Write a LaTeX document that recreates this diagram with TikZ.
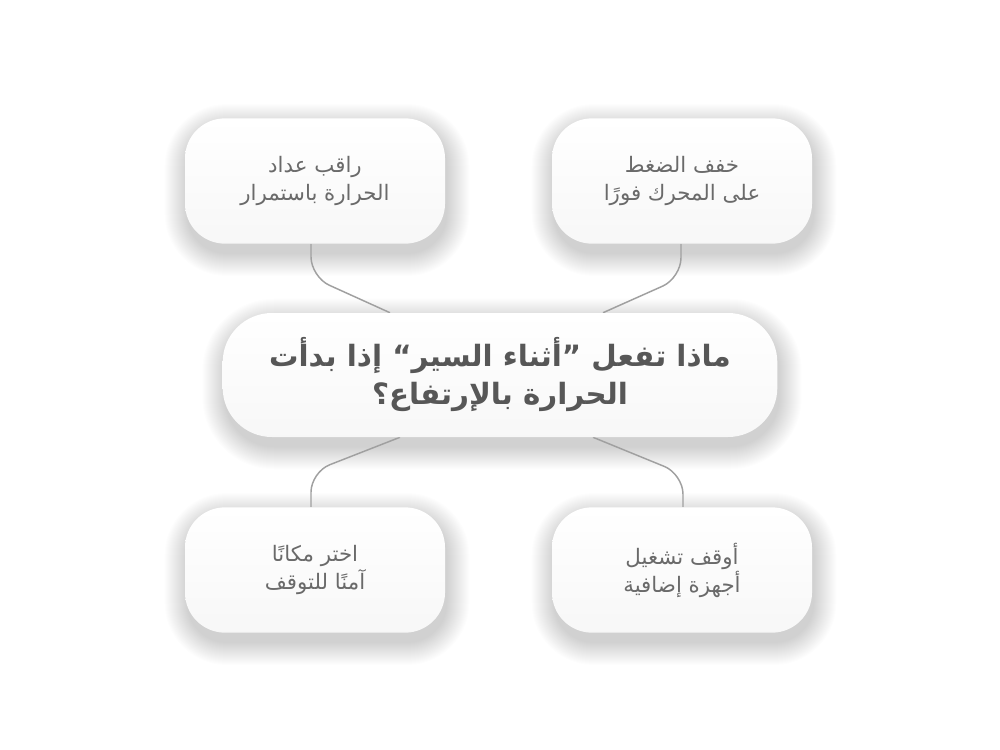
\documentclass[tikz,border=0pt]{standalone}
\usepackage{fontspec}
\newfontfamily\arabicfont[Script=Arabic]{DejaVu Sans}
\TeXXeTstate=1
\usetikzlibrary{calc}
\definecolor{txt}{HTML}{6A6A6A}
\definecolor{ctxt}{HTML}{575757}
\definecolor{conn}{HTML}{A0A0A0}
\pgfdeclarelayer{paper}
\pgfdeclarelayer{shadowlayer}
\pgfdeclarelayer{linklayer}
\pgfsetlayers{paper,shadowlayer,linklayer,main}
\newcommand{\softshadow}[2]{%
  \foreach \i in {0,...,22}{%
    \fill[black,opacity=0.0085,rounded corners={(#2+\i)*0.75pt}]
      ($(#1.north west)+(-\i+2,-\i+8)$) rectangle ($(#1.south east)+(\i+2,\i+10)$);
  }}
\tikzset{
  pill/.style={rounded corners=30pt, top color=white, bottom color=black!3,
    minimum width=195pt, minimum height=94pt, inner sep=0pt, align=center,
    text=txt, font=\arabicfont\fontsize{16}{21}\selectfont},
  mainpill/.style={rounded corners=37pt, top color=white, bottom color=black!3,
    minimum width=416pt, minimum height=93pt, inner sep=0pt, align=center,
    text=ctxt, font=\arabicfont\bfseries\fontsize{22}{28.5}\selectfont},
  link/.style={draw=conn, line width=1.1pt, rounded corners=15pt}
}
\begin{document}
\begin{tikzpicture}[x=0.75pt,y=-0.75pt]
\begin{pgfonlayer}{paper}
\fill[white] (0,0) rectangle (1000,750);
\end{pgfonlayer}
\useasboundingbox (0,0) rectangle (1000,750);

\node[pill] (tl) at (315,181) {\beginR راقب عداد\endR\\\beginR الحرارة باستمرار\endR};
\node[pill] (tr) at (682,181) {\beginR خفف الضغط\endR\\\beginR على المحرك فورًا\endR};
\node[mainpill] (c) at (500,375) {\beginR ماذا تفعل ”أثناء السير“ إذا بدأت\endR\\\beginR الحرارة بالإرتفاع؟\endR};
\node[pill] (bl) at (315,570) {\beginR اختر مكانًا\endR\\\beginR آمنًا للتوقف\endR};
\node[pill] (br) at (682,570) {\beginR أوقف تشغيل\endR\\\beginR أجهزة إضافية\endR};

\begin{pgfonlayer}{shadowlayer}
  \softshadow{tl}{40}
  \softshadow{tr}{40}
  \softshadow{c}{50}
  \softshadow{bl}{40}
  \softshadow{br}{40}
\end{pgfonlayer}

\begin{pgfonlayer}{linklayer}
  \draw[link] ($(tl.south)+(-4,0)$) -- ($(tl.south)+(-4,33)$) -- ($(c.north)+(-110,0)$);
  \draw[link] ($(tr.south)+(-1,0)$) -- ($(tr.south)+(-1,34)$) -- ($(c.north)+(103,0)$);
  \draw[link] ($(c.south)+(-100,0)$) -- ($(bl.north)+(-4,-35)$) -- ($(bl.north)+(-4,0)$);
  \draw[link] ($(c.south)+(93,0)$) -- ($(br.north)+(1,-33)$) -- ($(br.north)+(1,0)$);
\end{pgfonlayer}
\end{tikzpicture}
\end{document}
